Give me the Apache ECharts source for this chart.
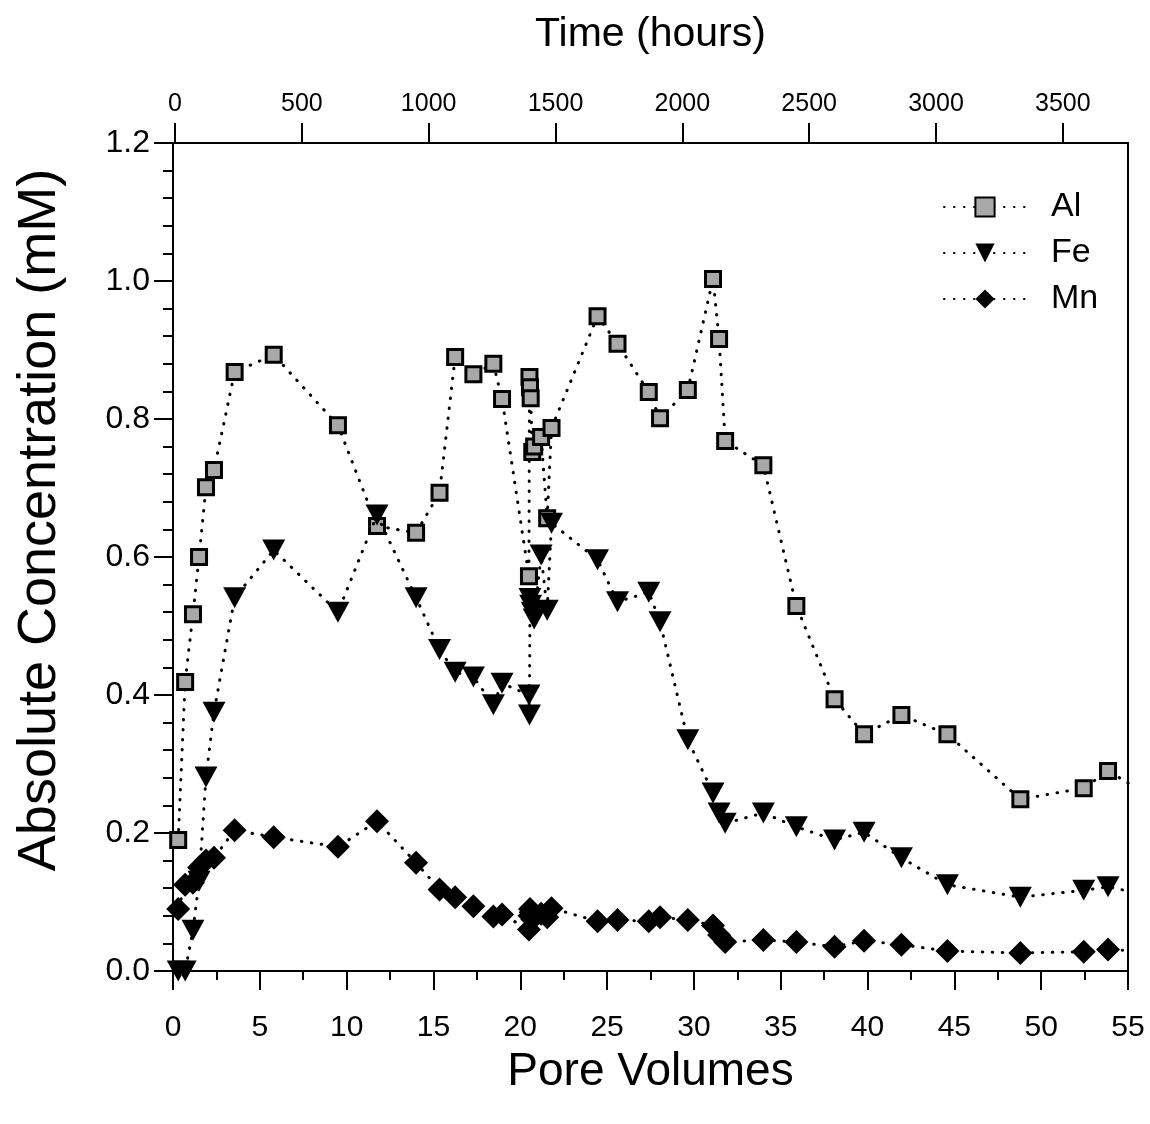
<!DOCTYPE html>
<html>
<head>
<meta charset="utf-8">
<script src="https://cdn.jsdelivr.net/npm/echarts@6/dist/echarts.min.js"></script>
<style>
html,body{margin:0;padding:0;background:#fff;}
#chart{width:1150px;height:1124px;}
</style>
</head>
<body>
<div id="chart"></div>
<script>
// Pore volumes (x) shared by all three series
const pv = [0.3,0.7,1.15,1.5,1.9,2.36,3.55,
  5.8,9.5,11.75,14.0,15.35,16.25,17.3,18.45,18.95,
  20.5,20.53,20.56,20.6,20.69,20.8,21.2,21.55,21.8,
  24.45,25.6,27.4,28.05,29.65,
  31.1,31.45,31.8,34.0,35.9,38.1,39.8,41.95,44.6,48.8,52.45,53.85,56.5];
const al = [0.19,0.419,0.517,0.6,0.701,0.726,0.868,
  0.893,0.791,0.645,0.635,0.693,0.89,0.865,0.88,0.829,
  0.572,0.861,0.846,0.83,0.752,0.76,0.774,0.656,0.787,
  0.949,0.909,0.839,0.801,0.842,
  1.003,0.916,0.768,0.733,0.529,0.394,0.343,0.371,0.343,0.249,0.265,0.29,0.25];
const fe = [0,0,0.059,0.13,0.281,0.375,0.541,
  0.61,0.52,0.661,0.541,0.466,0.433,0.426,0.386,0.417,
  0.4,0.371,0.54,0.53,0.52,0.51,0.603,0.523,0.649,
  0.596,0.535,0.549,0.506,0.335,
  0.258,0.229,0.214,0.229,0.209,0.19,0.201,0.164,0.125,0.107,0.117,0.122,0.108];
const mn = [0.09,0.125,0.128,0.15,0.16,0.164,0.204,
  0.194,0.18,0.217,0.157,0.118,0.107,0.094,0.079,0.082,
  0.06,0.08,0.09,0.085,0.075,0.08,0.083,0.078,0.091,
  0.072,0.074,0.072,0.078,0.074,
  0.066,0.052,0.042,0.045,0.042,0.035,0.044,0.038,0.029,0.026,0.028,0.031,0.028];
const timeTicks = [0,500,1000,1500,2000,2500,3000,3500];
const seriesNames = ['Al','Fe','Mn'];

const FONT = "'Liberation Sans', Arial, Helvetica, sans-serif";
const chart = echarts.init(document.getElementById('chart'), null, {renderer:'canvas'});
const dotted = {color:'#000', width:3, type:[0.5,9.5], cap:'round'};
function pairs(ys){ return pv.map((x,i)=>[x, ys[i]]); }

const option = {
  backgroundColor:'#fff',
  animation:false,
  grid:{left:173, right:22, top:143, bottom:153, show:true, borderColor:'#000', borderWidth:2, backgroundColor:'transparent'},
  legend:{
    orient:'vertical', left:938, top:184,
    itemWidth:82, itemHeight:24, itemGap:10,
    textStyle:{fontFamily:FONT, fontSize:34, color:'#000', padding:[0,0,0,20], lineHeight:36},
    data:seriesNames
  },
  xAxis:[{
    type:'value', position:'bottom', min:0, max:55, interval:5,
    name:'Pore Volumes', nameLocation:'middle', nameGap:78,
    nameTextStyle:{fontFamily:FONT, fontSize:46, color:'#000'},
    axisLine:{show:true, onZero:false, lineStyle:{color:'#000', width:2}},
    axisTick:{show:true, inside:false, length:19, lineStyle:{color:'#000', width:2}},
    minorTick:{show:true, splitNumber:2, length:9, lineStyle:{color:'#000', width:2}},
    axisLabel:{fontFamily:FONT, fontSize:30, color:'#000', margin:42},
    splitLine:{show:false}
  },{
    type:'value', position:'top', min:-8, max:3757,
    name:'Time (hours)', nameLocation:'middle', nameGap:88,
    nameTextStyle:{fontFamily:FONT, fontSize:41, color:'#000'},
    axisLine:{show:true, onZero:false, lineStyle:{color:'#000', width:2}},
    axisTick:{show:true, inside:false, length:20, customValues:timeTicks, lineStyle:{color:'#000', width:2}},
    axisLabel:{fontFamily:FONT, fontSize:25, color:'#000', margin:26, customValues:timeTicks, formatter:v=>String(v)},
    splitLine:{show:false}
  }],
  yAxis:[{
    type:'value', min:0, max:1.2, interval:0.2,
    name:'Absolute Concentration (mM)', nameLocation:'middle', nameGap:106,
    nameTextStyle:{fontFamily:FONT, fontSize:54, color:'#000', padding:[0,0,0,74]},
    axisLine:{show:true, onZero:false, lineStyle:{color:'#000', width:2}},
    axisTick:{show:true, inside:false, length:19, lineStyle:{color:'#000', width:2}},
    minorTick:{show:true, splitNumber:5, length:10, lineStyle:{color:'#000', width:2}},
    axisLabel:{fontFamily:FONT, fontSize:32, color:'#000', margin:23, formatter:v=>v.toFixed(1)},
    splitLine:{show:false}
  }],
  series:[
    {name:'Al', type:'line', xAxisIndex:0, data:pairs(al), clip:true,
     symbol:'rect', symbolSize:15,
     itemStyle:{color:'#a8a8a8', borderColor:'#000', borderWidth:3},
     lineStyle:dotted, z:3},
    {name:'Fe', type:'line', xAxisIndex:0, data:pairs(fe), clip:true,
     symbol:'triangle', symbolRotate:180, symbolSize:[23,21],
     itemStyle:{color:'#000', borderWidth:0},
     lineStyle:dotted, z:4},
    {name:'Mn', type:'line', xAxisIndex:0, data:pairs(mn), clip:true,
     symbol:'diamond', symbolSize:[24,24],
     itemStyle:{color:'#000', borderWidth:0},
     lineStyle:dotted, z:5}
  ]
};
chart.setOption(option);
</script>
</body>
</html>
